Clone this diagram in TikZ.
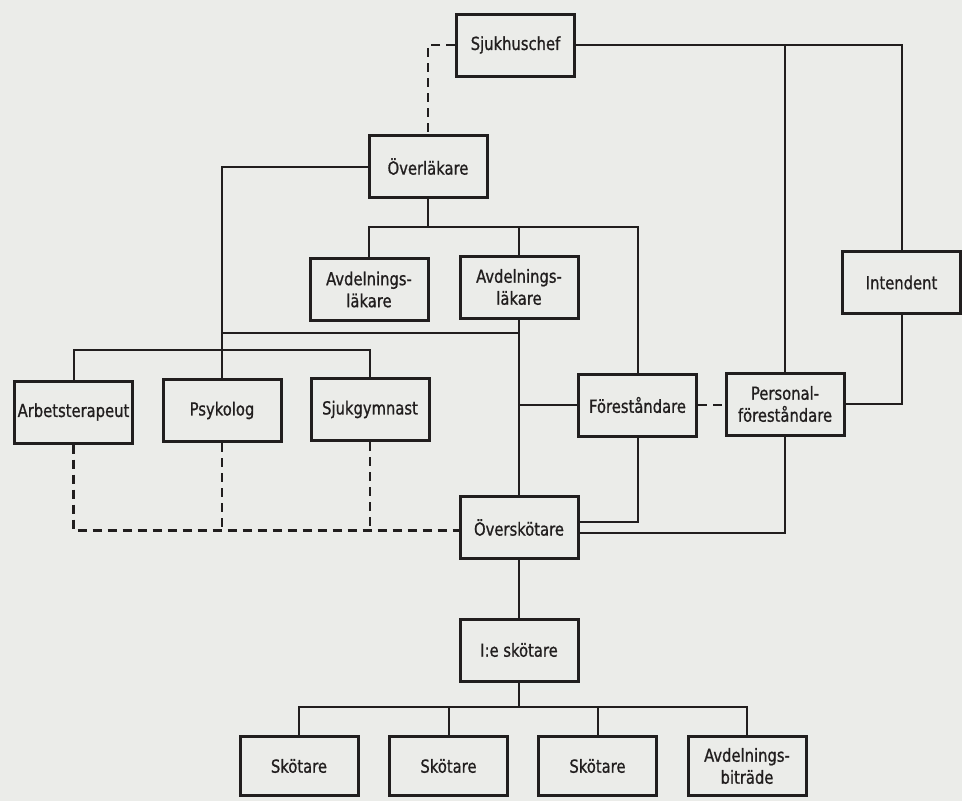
\documentclass[tikz,border=0pt]{standalone}
\usepackage{fontspec}
\setmainfont[FakeStretch=0.82,FakeBold=0.9]{DejaVu Sans}
\usetikzlibrary{calc}
\definecolor{paper}{RGB}{235,236,233}
\definecolor{ink}{RGB}{33,30,30}
\begin{document}
\begin{tikzpicture}[x=1pt,y=-1pt,
  box/.style={draw=ink, line width=3pt, minimum width=118pt, minimum height=62pt,
    inner sep=0pt, align=center, font=\fontsize{18}{22}\selectfont, text=ink},
  conn/.style={draw=ink, line width=2pt},
  dconn/.style={draw=ink, line width=2.2pt, dash pattern=on 9pt off 6pt}]
\fill[paper] (0,0) rectangle (962,801);
\useasboundingbox (0,0) rectangle (962,801);

\node[box] (sjc)  at (515.5,45)   {Sjukhuschef};
\node[box] (ovl)  at (428,166.5)  {Överläkare};
\node[box] (avl1) at (369,289.5)  {Avdelnings-\\läkare};
\node[box] (avl2) at (519,287)    {Avdelnings-\\läkare};
\node[box] (int)  at (901.5,282.5){Intendent};
\node[box] (art)  at (73.5,412)   {Arbetsterapeut};
\node[box] (psy)  at (222,410.5)  {Psykolog};
\node[box] (sjg)  at (370,409.5)  {Sjukgymnast};
\node[box] (for)  at (637.5,405)  {Föreståndare};
\node[box] (pf)   at (785,404)    {Personal-\\föreståndare};
\node[box] (osk)  at (519,527.5)  {Överskötare};
\node[box] (ies)  at (519,650)    {I:e skötare};
\node[box,minimum height=59pt] (sk1) at (299,766)   {Skötare};
\node[box,minimum height=59pt] (sk2) at (448.5,766) {Skötare};
\node[box,minimum height=59pt] (sk3) at (597.5,766) {Skötare};
\node[box,minimum height=59pt] (ab)  at (747,766)   {Avdelnings-\\biträde};

% top level
\draw[conn] (sjc.east) -| (int.north);
\draw[conn] (pf.north) -- (pf.north |- sjc.east);
\draw[dconn] (sjc.west) -| (ovl.north);

% from Överläkare
\coordinate (j1) at (ovl.south |- 0,227);
\draw[conn] (ovl.south) -- (j1);
\draw[conn] (avl1.north) |- (j1) -| (for.north);
\draw[conn] (avl2.north) -- (avl2.north |- j1);
\draw[conn] (ovl.west) -| (psy.north);

% from Avdelningsläkare 2
\draw[conn] (avl2.south) -- (osk.north);
\draw[conn] (avl2.south |- 0,333) -- (psy.north |- 0,333);
\draw[conn] (for.west) -- (for.west -| osk.north);

% therapists
\draw[conn] (art.north) |- ($(sjg.north)+(0,-27)$) -- (sjg.north);

% Föreståndare, Personalföreståndare, Intendent
\draw[conn] (for.south) |- ($(osk.east)+(0,-6)$);
\draw[conn] (pf.south) |- ($(osk.east)+(0,5)$);
\draw[conn] (int.south) |- (pf.east);
\draw[dconn] (for.east) -- (pf.west |- for.east);

% dashed to Överskötare
\coordinate (d1) at ($(osk.west)+(0,3)$);
\draw[dconn] (art.south) |- (d1);
\draw[dconn] (psy.south) -- (psy.south |- d1);
\draw[dconn] (sjg.south) -- (sjg.south |- d1);

% nursing line
\draw[conn] (osk.south) -- (ies.north);
\coordinate (j2) at (ies.south |- 0,707);
\draw[conn] (ies.south) -- (j2);
\draw[conn] (sk1.north) |- (j2) -| (ab.north);
\draw[conn] (sk2.north) -- (sk2.north |- j2);
\draw[conn] (sk3.north) -- (sk3.north |- j2);
\end{tikzpicture}
\end{document}
